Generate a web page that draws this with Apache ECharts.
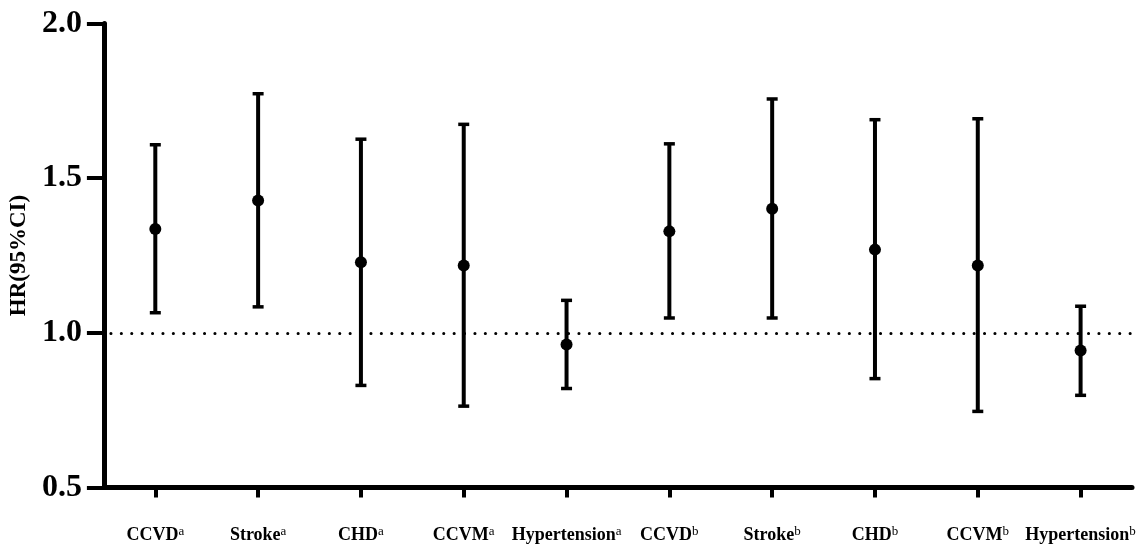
<!DOCTYPE html>
<html>
<head>
<meta charset="utf-8">
<script src="https://cdn.jsdelivr.net/npm/echarts@6/dist/echarts.min.js"></script>
<style>
html,body{margin:0;padding:0;background:#fff;}
#chart{width:1141px;height:546px;}
</style>
</head>
<body>
<div id="chart"></div>
<script>
// Data
var categories = ['CCVD', 'Stroke', 'CHD', 'CCVM', 'Hypertension', 'CCVD', 'Stroke', 'CHD', 'CCVM', 'Hypertension'];
var superscripts = ['a', 'a', 'a', 'a', 'a', 'b', 'b', 'b', 'b', 'b'];
var hr = [1.336, 1.428, 1.228, 1.218, 0.962, 1.328, 1.401, 1.269, 1.218, 0.943];
var lower = [1.065, 1.084, 0.830, 0.763, 0.820, 1.048, 1.048, 0.852, 0.746, 0.798];
var upper = [1.608, 1.773, 1.626, 1.674, 1.105, 1.611, 1.756, 1.689, 1.692, 1.086];
var yTicks = { min: 0.5, max: 2.0, interval: 0.5 };
var refLine = 1.0;

var chart = echarts.init(document.getElementById('chart'));
var serif = '"Times New Roman", "Liberation Serif", serif';

var errData = categories.map(function (c, i) { return [i, lower[i], upper[i]]; });
var ptData = categories.map(function (c, i) { return [i, hr[i]]; });

var option = {
  backgroundColor: '#fff',
  animation: false,
  grid: { left: 103, right: 9, top: 23.5, bottom: 58.5 },
  xAxis: {
    type: 'category',
    data: categories.map(function (c, i) { return i; }),
    boundaryGap: true,
    axisLine: { show: true, lineStyle: { color: '#000', width: 5 } },
    axisTick: { show: true, alignWithLabel: true, length: 10, lineStyle: { color: '#000', width: 4 } },
    axisLabel: {
      interval: 0,
      margin: 38,
      formatter: function (v) {
        var i = +v;
        return '{m|' + categories[i] + '}{s|' + superscripts[i] + '}';
      },
      rich: {
        m: { fontFamily: serif, fontWeight: 'bold', fontSize: 18, color: '#000', lineHeight: 20 },
        s: { fontFamily: serif, fontSize: 13, color: '#000', lineHeight: 12, verticalAlign: 'top' }
      }
    },
    splitLine: { show: false }
  },
  yAxis: {
    type: 'value',
    min: yTicks.min,
    max: yTicks.max,
    interval: yTicks.interval,
    name: 'HR(95%CI)',
    nameLocation: 'middle',
    nameGap: 66,
    nameTextStyle: { fontFamily: serif, fontWeight: 'bold', fontSize: 23, color: '#000' },
    axisLine: { show: true, lineStyle: { color: '#000', width: 5 } },
    axisTick: { show: true, length: 17, lineStyle: { color: '#000', width: 4 } },
    axisLabel: {
      margin: 22,
      fontFamily: serif,
      fontWeight: 'bold',
      fontSize: 32,
      color: '#000',
      formatter: function (v) { return v.toFixed(1); }
    },
    splitLine: { show: false }
  },
  series: [
    {
      type: 'custom',
      data: errData,
      z: 3,
      renderItem: function (params, api) {
        var x = api.value(0);
        var lo = api.coord([x, api.value(1)]);
        var hi = api.coord([x, api.value(2)]);
        var hw = 5.5;
        var st = { stroke: '#000', lineWidth: 4 };
        var cs = { stroke: '#000', lineWidth: 3.5 };
        return {
          type: 'group',
          children: [
            { type: 'line', shape: { x1: lo[0], y1: lo[1], x2: hi[0], y2: hi[1] }, style: st },
            { type: 'line', shape: { x1: lo[0] - hw, y1: lo[1], x2: lo[0] + hw, y2: lo[1] }, style: cs },
            { type: 'line', shape: { x1: hi[0] - hw, y1: hi[1], x2: hi[0] + hw, y2: hi[1] }, style: cs }
          ]
        };
      }
    },
    {
      type: 'scatter',
      data: ptData,
      symbol: 'circle',
      symbolSize: 12,
      z: 4,
      itemStyle: { color: '#000', opacity: 1 },
      markLine: {
        silent: true,
        symbol: 'none',
        label: { show: false },
        lineStyle: { color: '#000', width: 3, type: [0.1, 10.3], cap: 'round', dashOffset: -7, opacity: 1 },
        data: [{ yAxis: refLine }]
      }
    }
  ]
};
chart.setOption(option);
</script>
</body>
</html>
